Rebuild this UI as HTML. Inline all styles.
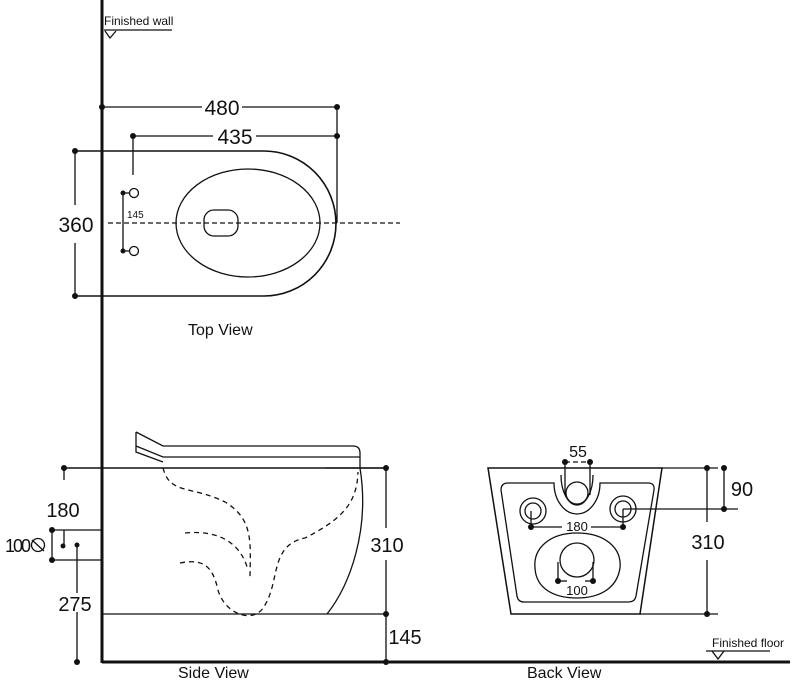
<!DOCTYPE html>
<html><head><meta charset="utf-8"><style>
html,body{margin:0;padding:0;background:#fff;}
svg{display:block;}
text{font-family:"Liberation Sans",Arial,sans-serif;fill:#111;}
</style></head><body>
<svg width="800" height="680" viewBox="0 0 800 680" xmlns="http://www.w3.org/2000/svg">
<g stroke="#111" fill="none" stroke-width="1.3">
<line x1="102" y1="0" x2="102" y2="663" stroke-width="3"/>
<line x1="102" y1="662" x2="790" y2="662" stroke-width="3"/>
<line x1="104" y1="30" x2="172" y2="30"/>
<path d="M105 31 L110 38 L116 31"/>
<line x1="706" y1="651" x2="770" y2="651"/>
<path d="M712 651 L718 659 L724 651"/>

<!-- TOP VIEW -->
<path d="M75 151 H264 A72 72.5 0 0 1 264 296 H75" stroke-width="1.6"/>
<ellipse cx="248" cy="223" rx="72" ry="54"/>
<rect x="204" y="210" width="34" height="26" rx="10"/>
<line x1="108" y1="223" x2="400" y2="223" stroke-dasharray="5,3"/>
<line x1="102" y1="107" x2="202" y2="107"/><line x1="242" y1="107" x2="337" y2="107"/>
<line x1="133" y1="136" x2="213" y2="136"/><line x1="256" y1="136" x2="337" y2="136"/>
<line x1="133" y1="136" x2="133" y2="175"/>
<line x1="337" y1="107" x2="337" y2="223"/>
<line x1="75" y1="151" x2="75" y2="205"/><line x1="75" y1="243" x2="75" y2="296"/>
<circle cx="134" cy="193" r="4.5"/><circle cx="134" cy="251" r="4.5"/>
<line x1="123" y1="193" x2="130" y2="193"/><line x1="123" y1="251" x2="130" y2="251"/>
<line x1="123" y1="193" x2="123" y2="251"/>

<!-- SIDE VIEW -->
<path d="M136 432 L163 446 H353 Q360 446 360 453 V468" />
<path d="M136 446 L163 457 H360"/>
<path d="M136 432 V452 L163 462"/>
<line x1="64" y1="468" x2="386" y2="468" stroke-width="1.6"/>
<path d="M360 468 C370 530 350 585 327 614"/>
<line x1="102" y1="614" x2="386" y2="614"/>
<g stroke-dasharray="5,4">
<path d="M163 468 C170 495 190 485 225 502 C255 520 250 545 250 580"/>
<path d="M185 533 C215 530 240 540 248 570"/>
<path d="M180 563 C205 558 213 568 218 590 C225 615 255 625 265 605 C280 580 270 545 305 538 C340 520 357 505 358 472"/>
</g>
<line x1="64" y1="468" x2="64" y2="480"/>
<line x1="52" y1="530" x2="102" y2="530"/><line x1="52" y1="560" x2="102" y2="560"/>
<line x1="52" y1="530" x2="52" y2="560"/>
<line x1="64" y1="530" x2="64" y2="546"/>
<line x1="77" y1="545" x2="77" y2="593"/><line x1="77" y1="612" x2="77" y2="662"/>
<circle cx="38" cy="545" r="6.5"/><line x1="32" y1="540" x2="44" y2="551"/>
<line x1="386" y1="468" x2="386" y2="528"/><line x1="386" y1="560" x2="386" y2="662"/>
<line x1="326" y1="468" x2="386" y2="468"/>

<!-- BACK VIEW -->
<path d="M488 468 H662 L640 614 H511 Z" stroke-width="1.5"/>
<line x1="662" y1="468" x2="718" y2="468"/>
<line x1="640" y1="614" x2="718" y2="614"/>
<path d="M508 483 H554 A23 31 0 0 0 600 483 H648 Q655 483 654 490 L636 596 Q635 602 628 602 H524 Q518 602 517 596 L501 490 Q501 483 508 483 Z"/>
<path d="M561 475 A16 30 0 0 0 593 475"/>
<circle cx="577" cy="493" r="11"/>
<circle cx="533" cy="511" r="13"/><circle cx="533" cy="511" r="8"/>
<circle cx="623" cy="509" r="13"/><circle cx="623" cy="509" r="8"/>
<path d="M577 533 C605 533 622 548 620 568 C617 588 600 598 577 598 C553 598 536 588 535 568 C533 548 550 533 577 533 Z"/>
<circle cx="577" cy="560" r="17"/>
<line x1="565" y1="462" x2="565" y2="495"/><line x1="590" y1="462" x2="590" y2="495"/>
<line x1="565" y1="462" x2="590" y2="462" stroke-dasharray="5,3"/>
<line x1="531" y1="527" x2="562" y2="527"/><line x1="591" y1="527" x2="623" y2="527"/>
<line x1="531" y1="511" x2="531" y2="527"/><line x1="623" y1="509" x2="623" y2="527"/>
<line x1="623" y1="509" x2="738" y2="509"/>
<line x1="558" y1="562" x2="558" y2="581"/><line x1="593" y1="562" x2="593" y2="581"/>
<line x1="558" y1="581" x2="567" y2="581"/><line x1="585" y1="581" x2="593" y2="581"/>
<line x1="707" y1="468" x2="707" y2="522"/><line x1="707" y1="560" x2="707" y2="614"/>
<line x1="724" y1="468" x2="724" y2="509"/>
</g>
<g fill="#111">
<circle cx="102" cy="107" r="3"/><circle cx="337" cy="107" r="3"/>
<circle cx="133" cy="136" r="3"/><circle cx="337" cy="136" r="3"/>
<circle cx="75" cy="151" r="3"/><circle cx="75" cy="296" r="3"/>
<circle cx="123" cy="193" r="2.5"/><circle cx="123" cy="251" r="2.5"/>
<circle cx="64" cy="468" r="3"/><circle cx="386" cy="468" r="3"/>
<circle cx="52" cy="530" r="3"/><circle cx="52" cy="560" r="3"/>
<circle cx="63" cy="546" r="2.5"/><circle cx="77" cy="545" r="2.5"/>
<circle cx="77" cy="662" r="3"/><circle cx="386" cy="614" r="3"/><circle cx="386" cy="662" r="3"/>
<circle cx="565" cy="462" r="3"/><circle cx="590" cy="462" r="3"/>
<circle cx="531" cy="527" r="3"/><circle cx="623" cy="527" r="3"/>
<circle cx="558" cy="581" r="3"/><circle cx="593" cy="581" r="3"/>
<circle cx="707" cy="468" r="3"/><circle cx="724" cy="468" r="3"/>
<circle cx="724" cy="509" r="3"/><circle cx="707" cy="614" r="3"/>
</g>
<text x="104" y="25" font-size="12">Finished wall</text>
<text x="712" y="647" font-size="12">Finished floor</text>
<text x="222" y="115" font-size="21" text-anchor="middle">480</text>
<text x="235" y="144" font-size="21" text-anchor="middle">435</text>
<text x="76" y="232" font-size="21" text-anchor="middle">360</text>
<text x="127" y="218" font-size="10">145</text>
<text x="188" y="335" font-size="16">Top View</text>
<text x="63" y="517" font-size="20" text-anchor="middle">180</text>
<text x="17" y="552" font-size="18" text-anchor="middle" letter-spacing="-2">100</text>
<text x="75" y="611" font-size="20" text-anchor="middle">275</text>
<text x="387" y="552" font-size="20" text-anchor="middle">310</text>
<text x="405" y="644" font-size="20" text-anchor="middle">145</text>
<text x="178" y="678" font-size="16">Side View</text>
<text x="527" y="678" font-size="16">Back View</text>
<text x="578" y="457" font-size="16" text-anchor="middle">55</text>
<text x="577" y="531" font-size="13" text-anchor="middle">180</text>
<text x="577" y="595" font-size="13" text-anchor="middle">100</text>
<text x="742" y="496" font-size="20" text-anchor="middle">90</text>
<text x="708" y="549" font-size="20" text-anchor="middle">310</text>
</svg>
</body></html>
